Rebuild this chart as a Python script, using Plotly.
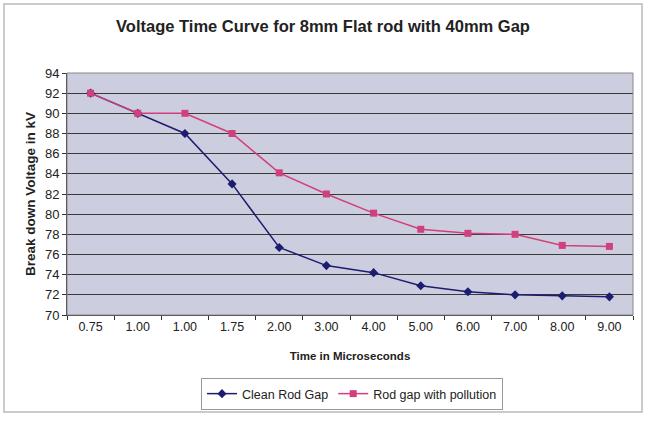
import plotly.graph_objects as go

categories = ["0.75", "1.00", "1.00", "1.75", "2.00", "3.00", "4.00", "5.00", "6.00", "7.00", "8.00", "9.00"]
clean_rod_gap = [92, 90, 88, 83, 76.7, 74.9, 74.2, 72.9, 72.3, 72.0, 71.9, 71.8]
rod_gap_pollution = [92, 90, 90, 88, 84.1, 82.0, 80.1, 78.5, 78.1, 78.0, 76.9, 76.8]
y_ticks = list(range(70, 95, 2))

x_idx = list(range(len(categories)))

L, R, T, B = 67, 13, 73, 107
W, H = 646, 422
pw, ph = W - L - R, H - T - B

def px_x(x):
    return (x - L) / pw

def px_y(y):
    return (H - B - y) / ph

fig = go.Figure()
fig.add_trace(go.Scatter(
    x=x_idx, y=clean_rod_gap, mode="lines+markers", name="Clean Rod Gap",
    line=dict(color="#1c1c70", width=1.5),
    marker=dict(symbol="diamond", size=7, color="#1c1c70"),
))
fig.add_trace(go.Scatter(
    x=x_idx, y=rod_gap_pollution, mode="lines+markers", name="Rod gap with pollution",
    line=dict(color="#d0407e", width=1.5),
    marker=dict(symbol="square", size=7, color="#d0407e"),
))

fig.update_layout(
    width=W, height=H,
    margin=dict(l=L, r=R, t=T, b=B),
    paper_bgcolor="white",
    plot_bgcolor="#cdcde0",
    font=dict(family="Liberation Sans, Arial, sans-serif", size=12, color="#222222"),
    title=dict(text="<b>Voltage Time Curve for 8mm Flat rod with 40mm Gap</b>",
               x=0.5, xanchor="center", y=1 - 26 / H, yanchor="middle",
               font=dict(size=16.5, color="#222222")),
    showlegend=True,
    legend=dict(orientation="h", x=px_x(352), xanchor="center", y=px_y(394), yanchor="middle",
                bordercolor="#999999", borderwidth=1, bgcolor="white",
                font=dict(size=12.5), itemwidth=30, tracegroupgap=0),
    xaxis=dict(
        range=[-0.5, len(categories) - 0.5],
        tickmode="array", tickvals=x_idx, ticktext=categories,
        ticks="", showgrid=False, zeroline=False,
        showline=True, linecolor="#333333", linewidth=1,
        minor=dict(ticks="outside", tick0=-0.5, dtick=1, ticklen=4, tickcolor="#333333", showgrid=False),
        tickfont=dict(size=12.5),
        title=dict(text="<b>Time in Microseconds</b>", font=dict(size=11.5), standoff=18),
        mirror=False,
    ),
    yaxis=dict(
        range=[70, 94], tickmode="array", tickvals=y_ticks,
        ticks="outside", ticklen=4, tickcolor="#333333",
        showgrid=True, gridcolor="#3a3a3a", gridwidth=1, zeroline=False,
        showline=True, linecolor="#333333", linewidth=1,
        tickfont=dict(size=13),
        title=dict(text="<b>Break down Voltage in kV</b>", font=dict(size=13.5), standoff=6),
    ),
    shapes=[
        dict(type="rect", xref="paper", yref="paper",
             x0=px_x(4), x1=px_x(642), y0=px_y(412), y1=px_y(4),
             line=dict(color="#bbbbbb", width=1.5), fillcolor="rgba(0,0,0,0)", layer="below"),
        dict(type="rect", xref="paper", yref="paper", x0=0, x1=1, y0=0, y1=1,
             line=dict(color="#888888", width=1), fillcolor="rgba(0,0,0,0)"),
    ],
)

fig.write_html("out.html")
